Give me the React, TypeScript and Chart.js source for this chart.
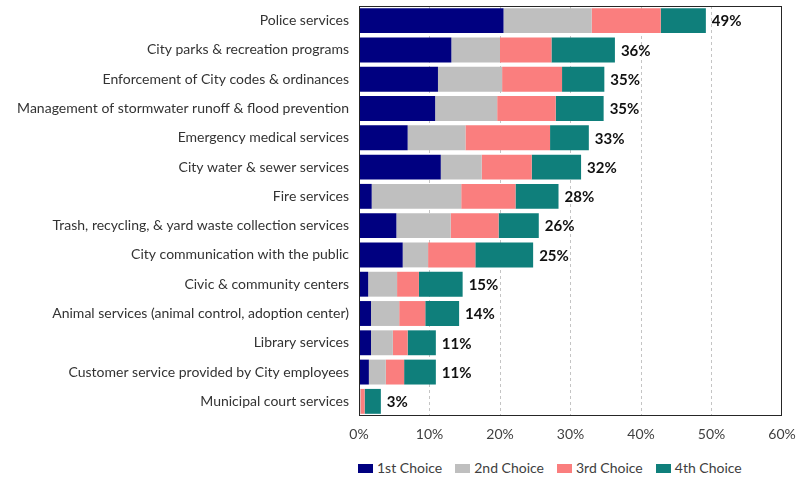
import React, { useEffect, useRef } from "react";
import { Chart, registerables } from "chart.js";

Chart.register(...registerables);

const categories = [
  "Police services",
  "City parks & recreation programs",
  "Enforcement of City codes & ordinances",
  "Management of stormwater runoff & flood prevention",
  "Emergency medical services",
  "City water & sewer services",
  "Fire services",
  "Trash, recycling, & yard waste collection services",
  "City communication with the public",
  "Civic & community centers",
  "Animal services (animal control, adoption center)",
  "Library services",
  "Customer service provided by City employees",
  "Municipal court services",
];

const firstChoice = [20.5, 13.1, 11.2, 10.8, 6.9, 11.6, 1.8, 5.3, 6.2, 1.3, 1.7, 1.7, 1.4, 0.1];
const secondChoice = [12.5, 6.9, 9.1, 8.8, 8.2, 5.8, 12.7, 7.7, 3.6, 4.1, 4.0, 3.1, 2.4, 0.1];
const thirdChoice = [9.8, 7.3, 8.5, 8.3, 12.0, 7.1, 7.7, 6.8, 6.7, 3.1, 3.7, 2.1, 2.6, 0.6];
const fourthChoice = [6.4, 9.0, 6.0, 6.8, 5.5, 7.0, 6.1, 5.7, 8.2, 6.2, 4.8, 4.0, 4.5, 2.3];
const totalLabels = ["49%", "36%", "35%", "35%", "33%", "32%", "28%", "26%", "25%", "15%", "14%", "11%", "11%", "3%"];

const seriesNames = ["1st Choice", "2nd Choice", "3rd Choice", "4th Choice"];
const seriesColors = ["#000080", "#BFBFBF", "#FA7E7E", "#0F7F7B"];

const FONT = "Lato, 'Open Sans', sans-serif";

export default function App() {
  const canvasRef = useRef<HTMLCanvasElement | null>(null);

  useEffect(() => {
    document.body.style.margin = "0";
    const canvas = canvasRef.current;
    if (!canvas) return;
    const seriesData = [firstChoice, secondChoice, thirdChoice, fourthChoice];

    const overlayPlugin = {
      id: "overlay",
      afterDatasetsDraw(chart: any) {
        const ctx = chart.ctx;
        const area = chart.chartArea;
        ctx.save();
        ctx.strokeStyle = "#262626";
        ctx.lineWidth = 1;
        ctx.setLineDash([]);
        ctx.strokeRect(
          Math.round(area.left) + 0.5,
          Math.round(area.top) + 0.5,
          Math.round(area.right - area.left) - 1,
          Math.round(area.bottom - area.top) - 1
        );
        const last = chart.getDatasetMeta(3);
        ctx.font = `bold 15px ${FONT}`;
        ctx.fillStyle = "#111";
        ctx.textAlign = "left";
        ctx.textBaseline = "middle";
        last.data.forEach((bar: any, i: number) => {
          ctx.fillText(totalLabels[i], bar.x + 6, bar.y + 1);
        });
        ctx.restore();
      },
    };

    const chart = new Chart(canvas, {
      type: "bar",
      data: {
        labels: categories,
        datasets: seriesNames.map((name, k) => ({
          label: name,
          data: seriesData[k],
          backgroundColor: seriesColors[k],
          borderWidth: 0,
          barPercentage: 0.85,
          categoryPercentage: 1,
        })),
      },
      options: {
        indexAxis: "y",
        animation: false,
        responsive: false,
        maintainAspectRatio: false,
        layout: { padding: { top: 6, right: 14, left: 0, bottom: 0 } },
        plugins: {
          legend: { display: false },
          tooltip: { enabled: false },
        },
        scales: {
          x: {
            stacked: true,
            min: 0,
            max: 60,
            border: { display: false, dash: [3, 3] },
            grid: {
              color: (c: any) => (c.tick && (c.tick.value === 0 || c.tick.value === 60) ? "rgba(0,0,0,0)" : "#C4C4C4"),
              drawTicks: false,
            },
            ticks: {
              stepSize: 10,
              padding: 10,
              color: "#404040",
              font: { family: FONT, size: 14 },
              callback: (v: any) => `${v}%`,
            },
            afterFit: (scale: any) => {
              scale.height = 34;
              scale.paddingLeft = 0;
              scale.paddingRight = 0;
            },
          },
          y: {
            stacked: true,
            border: { display: false },
            grid: { display: false, drawTicks: false },
            ticks: {
              padding: 10,
              color: "#333",
              font: { family: FONT, size: 14 },
            },
            afterFit: (scale: any) => {
              scale.width = 359;
              scale.paddingTop = 0;
              scale.paddingBottom = 0;
            },
          },
        },
      },
      plugins: [overlayPlugin],
    } as any);

    return () => chart.destroy();
  }, []);

  const legendItem = (name: string, color: string) => (
    <div key={name} style={{ display: "flex", alignItems: "center", marginRight: 13 }}>
      <span style={{ display: "inline-block", width: 15, height: 9, background: color, marginRight: 4 }} />
      <span>{name}</span>
    </div>
  );

  return (
    <div style={{ position: "relative", width: 796, height: 480, background: "#fff" }}>
      <canvas ref={canvasRef} width={796} height={450} style={{ display: "block" }} />
      <div
        style={{
          position: "absolute",
          top: 460,
          left: 358,
          display: "flex",
          fontFamily: FONT,
          fontSize: 14,
          color: "#404040",
          lineHeight: "16px",
          whiteSpace: "nowrap",
        }}
      >
        {seriesNames.map((n, k) => legendItem(n, seriesColors[k]))}
      </div>
    </div>
  );
}
